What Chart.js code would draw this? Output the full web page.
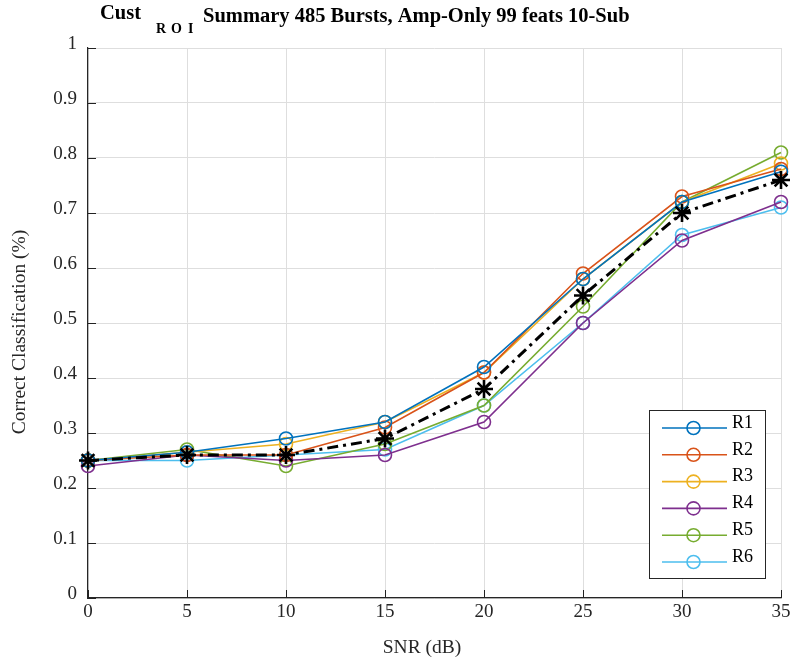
<!DOCTYPE html>
<html>
<head>
<meta charset="utf-8">
<script src="https://cdn.jsdelivr.net/npm/chart.js@4"></script>
<style>
  html, body { margin: 0; padding: 0; background: #fff; }
  #wrap { width: 790px; height: 663px; }
</style>
</head>
<body>
<div id="wrap"><canvas id="chart" width="790" height="663"></canvas></div>
<script>
const snr = [0, 5, 10, 15, 20, 25, 30, 35];
const seriesNames = ['R1', 'R2', 'R3', 'R4', 'R5', 'R6'];
const r1 = [0.25, 0.265, 0.29, 0.32, 0.42, 0.58, 0.72, 0.775];
const r2 = [0.25, 0.26, 0.26, 0.31, 0.41, 0.59, 0.73, 0.78];
const r3 = [0.25, 0.265, 0.28, 0.32, 0.41, 0.58, 0.72, 0.79];
const r4 = [0.24, 0.26, 0.25, 0.26, 0.32, 0.50, 0.65, 0.72];
const r5 = [0.25, 0.27, 0.24, 0.28, 0.35, 0.53, 0.72, 0.81];
const r6 = [0.25, 0.25, 0.26, 0.27, 0.35, 0.50, 0.66, 0.71];
const average = [0.25, 0.26, 0.26, 0.29, 0.38, 0.55, 0.70, 0.76];
const yTicks = [0, 0.1, 0.2, 0.3, 0.4, 0.5, 0.6, 0.7, 0.8, 0.9, 1];
const colors = ['#0072BD', '#D95319', '#EDB120', '#7E2F8E', '#77AC30', '#4DBEEE'];

const serif = '"Liberation Serif", "Times New Roman", serif';
const allSeries = [r1, r2, r3, r4, r5, r6];

const datasets = allSeries.map((vals, i) => ({
    label: seriesNames[i],
    data: vals.map((v, j) => ({ x: snr[j], y: v })),
    borderColor: colors[i],
    borderWidth: 1.6,
    pointStyle: 'circle',
    pointRadius: 6.5,
    pointBorderWidth: 1.6,
    pointBorderColor: colors[i],
    pointBackgroundColor: 'rgba(0,0,0,0)',
    clip: false,
    order: 1,
}));
datasets.push({
    label: 'Average',
    data: average.map((v, j) => ({ x: snr[j], y: v })),
    borderColor: '#000',
    borderWidth: 3,
    borderDash: [11, 5, 3, 5],
    pointStyle: 'star',
    pointRadius: 9,
    pointBorderWidth: 2.6,
    pointBorderColor: '#000',
    pointBackgroundColor: '#000',
    clip: false,
    order: 0,
});

// title with subscript, axis titles, x tick labels, inner tick marks, and boxed legend
const decorations = {
    id: 'decorations',
    afterDraw(chart) {
        const ctx = chart.ctx;
        const xs = chart.scales.x, ys = chart.scales.y;
        ctx.save();
        ctx.fillStyle = '#000';
        ctx.textBaseline = 'middle';
        ctx.textAlign = 'left';
        ctx.font = 'bold 20.5px ' + serif;
        ctx.fillText('Cust', 100, 14);
        ctx.fillText('Summary 485 Bursts, Amp-Only 99 feats 10-Sub', 203, 17);
        ctx.font = 'bold 14px ' + serif;
        ctx.fillText('R', 156, 29);
        ctx.fillText('O', 171, 29);
        ctx.fillText('I', 188, 29);

        // x tick labels
        ctx.fillStyle = '#262626';
        ctx.font = '19px ' + serif;
        ctx.textAlign = 'center';
        snr.forEach(t => {
            ctx.fillText(String(t), xs.getPixelForValue(t), ys.bottom + 14);
        });

        // axis titles
        ctx.font = '19.5px ' + serif;
        ctx.fillText('SNR (dB)', 422, 648);
        ctx.translate(20, 332);
        ctx.rotate(-Math.PI / 2);
        ctx.fillText('Correct Classification (%)', 0, 0);
        ctx.setTransform(1, 0, 0, 1, 0, 0);
        ctx.textAlign = 'left';

        // inner ticks
        ctx.strokeStyle = '#222';
        ctx.lineWidth = 1;
        ctx.beginPath();
        yTicks.forEach(t => {
            const py = Math.round(ys.getPixelForValue(t)) + 0.5;
            ctx.moveTo(xs.left, py);
            ctx.lineTo(xs.left + 8, py);
        });
        snr.forEach(t => {
            const px = Math.round(xs.getPixelForValue(t)) + 0.5;
            ctx.moveTo(px, ys.bottom);
            ctx.lineTo(px, ys.bottom - 8);
        });
        ctx.stroke();

        // legend
        const bx = 649.5, by = 410.5, bw = 116, bh = 168;
        ctx.fillStyle = '#fff';
        ctx.fillRect(bx, by, bw, bh);
        ctx.strokeStyle = '#262626';
        ctx.lineWidth = 1;
        ctx.strokeRect(bx, by, bw, bh);
        ctx.font = '18px ' + serif;
        chart.data.datasets.slice(0, 6).forEach((ds, i) => {
            const ly = 428 + i * 26.8;
            ctx.strokeStyle = ds.borderColor;
            ctx.lineWidth = 1.6;
            ctx.beginPath();
            ctx.moveTo(662, ly);
            ctx.lineTo(727, ly);
            ctx.stroke();
            ctx.beginPath();
            ctx.arc(693.5, ly, 6.5, 0, Math.PI * 2);
            ctx.stroke();
            ctx.fillStyle = '#000';
            ctx.fillText(ds.label, 732, ly - 5);
        });
        ctx.restore();
    }
};

new Chart(document.getElementById('chart'), {
    type: 'line',
    data: { datasets },
    options: {
        responsive: false,
        animation: false,
        layout: { autoPadding: false, padding: { top: 48, right: 9, left: 0, bottom: 0 } },
        plugins: { legend: { display: false }, tooltip: { enabled: false } },
        scales: {
            x: {
                type: 'linear',
                min: 0,
                max: 35,
                afterBuildTicks: (s) => { s.ticks = snr.map(v => ({ value: v })); },
                afterFit: (s) => { s.height = 65; },
                grid: { color: '#dedede', drawTicks: false, lineWidth: 1 },
                border: { color: '#262626', width: 1.2 },
                ticks: { display: false },
            },
            y: {
                min: 0,
                max: 1,
                afterBuildTicks: (s) => { s.ticks = yTicks.map(v => ({ value: v })); },
                afterFit: (s) => { s.width = 88; },
                grid: { color: '#dedede', drawTicks: false, lineWidth: 1 },
                border: { color: '#262626', width: 1.2 },
                ticks: {
                    font: { family: serif, size: 19 },
                    color: '#262626',
                    padding: 11,
                    labelOffset: -4,
                    callback: (v) => String(+v.toFixed(1)),
                },
            },
        },
    },
    plugins: [decorations],
});
</script>
</body>
</html>
